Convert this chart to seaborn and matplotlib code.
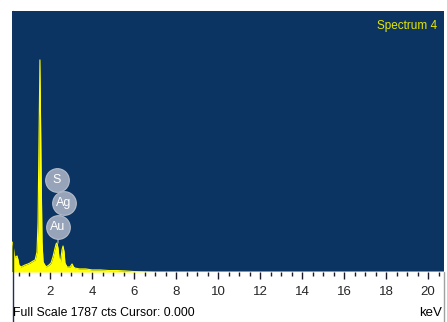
import matplotlib
matplotlib.use("Agg")
import matplotlib.pyplot as plt
from matplotlib.lines import Line2D
import numpy as np
import pandas as pd
import seaborn as sns

# EDS spectrum, energy (keV) vs counts
energy_kev = [0.19, 0.21, 0.25, 0.29, 0.33, 0.38, 0.43, 0.48, 0.52, 0.62, 0.71, 0.81,
              0.95, 1.05, 1.19, 1.29, 1.38, 1.43, 1.48, 1.52, 1.57, 1.62, 1.67, 1.81,
              1.95, 2.05, 2.14, 2.24, 2.29, 2.33, 2.38, 2.43, 2.50, 2.57, 2.62, 2.67,
              2.71, 2.81, 2.95, 3.05, 3.12, 3.19, 3.40, 3.70, 4.00, 4.40, 4.80, 5.20,
              5.60, 6.00, 7.00, 10.0, 15.0, 20.76]
counts = [192, 205, 178, 123, 103, 103, 110, 82, 48, 34, 41, 48,
          55, 62, 75, 82, 137, 343, 959, 1452, 754, 205, 68, 34,
          48, 62, 103, 164, 192, 199, 164, 96, 68, 151, 178, 137,
          62, 34, 34, 55, 34, 27, 21, 21, 14, 14, 10, 10,
          7, 3, 0, 0, 0, 0]

full_scale = 1787
x_min, x_max = 0.19, 20.76
major_ticks = [2, 4, 6, 8, 10, 12, 14, 16, 18, 20]

# element markers (label, energy, height of the badge)
element_labels = ["S", "Ag", "Au"]
element_x = [2.33, 2.67, 2.38]
element_y = [630, 473, 308]
peak_anchor = (2.38, 199)

spectrum = pd.DataFrame({"keV": energy_kev, "cts": counts})

sns.set_style("white")
plt.rcParams["font.family"] = ["Liberation Sans", "DejaVu Sans"]

W, H = 447, 322
fig = plt.figure(figsize=(W / 100, H / 100), dpi=100)
ax = fig.add_axes([12 / W, (H - 272) / H, (444 - 12) / W, (272 - 11) / H])

bg = "#0b3463"
yellow = "#ffff00"
ax.set_facecolor(bg)

ax.fill_between(spectrum["keV"], 0, spectrum["cts"], color=yellow, linewidth=0)
sns.lineplot(data=spectrum, x="keV", y="cts", ax=ax, color=yellow, linewidth=0.8)

# badge connector and badges
badge_color = "#97a3b8"
ax.plot([element_x[0], element_x[1], element_x[2], peak_anchor[0]],
        [element_y[0], element_y[1], element_y[2], peak_anchor[1]],
        color=badge_color, linewidth=1.0, zorder=3)
ax.scatter(element_x, element_y, s=290, color=badge_color, edgecolors="#b4bdcc",
           linewidths=0.8, zorder=4)
for lab, ex, ey in zip(element_labels, element_x, element_y):
    ax.text(ex, ey, lab, color="white", fontsize=9, ha="center", va="center", zorder=5)

ax.set_xlim(x_min, x_max)
ax.set_ylim(0, full_scale)
ax.set_xticks(major_ticks)
ax.set_xticklabels([str(t) for t in major_ticks])
ax.set_xticks(np.arange(0.5, 20.6, 0.5), minor=True)
ax.set_yticks([])
ax.set_xlabel("")
ax.set_ylabel("")
ax.tick_params(axis="x", which="major", direction="out", length=5, width=1,
               color="#1a1a2a", labelsize=9.5, pad=5, bottom=True)
ax.tick_params(axis="x", which="minor", direction="out", length=3, width=1,
               color="#1a1a2a", bottom=True)
for s in ax.spines.values():
    s.set_visible(False)

ax.text(0.985, 0.965, "Spectrum 4", transform=ax.transAxes, color="#e6e600",
        fontsize=8.5, ha="right", va="top")

# frame lines below the plot area
fig.add_artist(Line2D([12.5 / W, 12.5 / W], [0, (H - 11) / H], color="#1f2f55", linewidth=1))
fig.add_artist(Line2D([443.5 / W, 443.5 / W], [0, (H - 272) / H], color="#a0a0a0", linewidth=1))

fig.text(13 / W, (H - 313) / H, "Full Scale 1787 cts Cursor: 0.000", fontsize=8.8,
         ha="left", va="center", color="black")
fig.text(442 / W, (H - 313) / H, "keV", fontsize=9.5, ha="right", va="center", color="black")

fig.savefig("out.png", dpi=100, facecolor="white")
